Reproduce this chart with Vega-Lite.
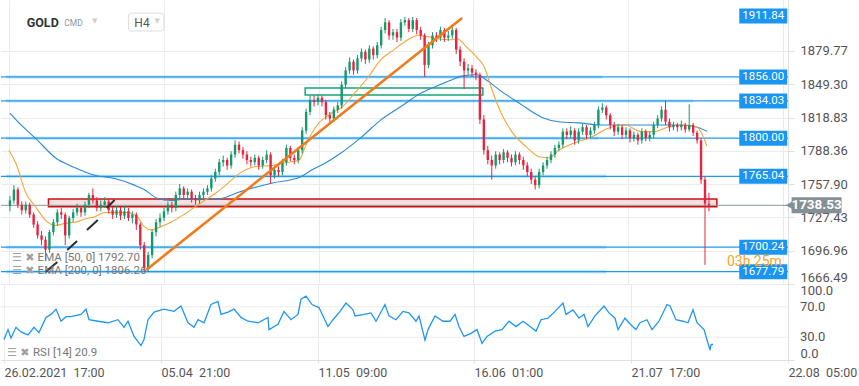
{
"$schema":"https://vega.github.io/schema/vega-lite/v6.json",
"padding":0,"spacing":0,"bounds":"flush",
"background":"white",
"config":{"font":"Roboto","view":{"stroke":null},"axis":{"labelFont":"Roboto","labelColor":"#555","gridColor":"#ebebeb","domainColor":"#e0e0e0","tickColor":"#e0e0e0"}},
"datasets":{
"candles":[
{"t":1,"o":1738,"h":1747,"l":1733,"c":1743},{"t":2,"o":1743,"h":1757,"l":1740,"c":1753},{"t":3,"o":1753,"h":1755,"l":1736,"c":1739},{"t":4,"o":1739,"h":1742,"l":1730,"c":1734},{"t":5,"o":1734,"h":1742,"l":1731,"c":1739},{"t":6,"o":1739,"h":1741,"l":1727,"c":1730},{"t":7,"o":1730,"h":1732,"l":1718,"c":1721},{"t":8,"o":1721,"h":1724,"l":1708,"c":1711},{"t":9,"o":1711,"h":1715,"l":1702,"c":1707},{"t":10,"o":1707,"h":1710,"l":1688,"c":1698},
{"t":11,"o":1698,"h":1716,"l":1695,"c":1714},{"t":12,"o":1714,"h":1726,"l":1711,"c":1723},{"t":13,"o":1723,"h":1735,"l":1720,"c":1732},{"t":14,"o":1732,"h":1736,"l":1726,"c":1730},{"t":15,"o":1730,"h":1732,"l":1702,"c":1711},{"t":16,"o":1711,"h":1729,"l":1708,"c":1727},{"t":17,"o":1727,"h":1735,"l":1723,"c":1732},{"t":18,"o":1732,"h":1740,"l":1729,"c":1736},{"t":19,"o":1736,"h":1738,"l":1728,"c":1732},{"t":20,"o":1732,"h":1742,"l":1729,"c":1739},
{"t":21,"o":1739,"h":1750,"l":1736,"c":1748},{"t":22,"o":1748,"h":1754,"l":1740,"c":1743},{"t":23,"o":1743,"h":1746,"l":1733,"c":1736},{"t":24,"o":1736,"h":1743,"l":1733,"c":1739},{"t":25,"o":1739,"h":1746,"l":1736,"c":1742},{"t":26,"o":1742,"h":1744,"l":1731,"c":1734},{"t":27,"o":1734,"h":1737,"l":1726,"c":1730},{"t":28,"o":1730,"h":1738,"l":1727,"c":1734},{"t":29,"o":1734,"h":1737,"l":1725,"c":1729},{"t":30,"o":1729,"h":1738,"l":1726,"c":1733},
{"t":31,"o":1733,"h":1736,"l":1724,"c":1727},{"t":32,"o":1727,"h":1733,"l":1722,"c":1730},{"t":33,"o":1730,"h":1732,"l":1716,"c":1721},{"t":34,"o":1721,"h":1723,"l":1698,"c":1702},{"t":35,"o":1702,"h":1705,"l":1677.5,"c":1681},{"t":36,"o":1681,"h":1696,"l":1678,"c":1693},{"t":37,"o":1693,"h":1716,"l":1690,"c":1714},{"t":38,"o":1714,"h":1726,"l":1710,"c":1723},{"t":39,"o":1723,"h":1731,"l":1719,"c":1727},{"t":40,"o":1727,"h":1736,"l":1724,"c":1733},
{"t":41,"o":1733,"h":1742,"l":1730,"c":1739},{"t":42,"o":1739,"h":1742,"l":1732,"c":1736},{"t":43,"o":1736,"h":1751,"l":1733,"c":1748},{"t":44,"o":1748,"h":1758,"l":1745,"c":1754},{"t":45,"o":1754,"h":1756,"l":1744,"c":1748},{"t":46,"o":1748,"h":1754,"l":1745,"c":1751},{"t":47,"o":1751,"h":1753,"l":1741,"c":1745},{"t":48,"o":1745,"h":1748,"l":1739,"c":1743},{"t":49,"o":1743,"h":1751,"l":1740,"c":1748},{"t":50,"o":1748,"h":1754,"l":1745,"c":1751},
{"t":51,"o":1751,"h":1757,"l":1748,"c":1754},{"t":52,"o":1754,"h":1766,"l":1751,"c":1763},{"t":53,"o":1763,"h":1772,"l":1760,"c":1769},{"t":54,"o":1769,"h":1781,"l":1766,"c":1778},{"t":55,"o":1778,"h":1784,"l":1774,"c":1780},{"t":56,"o":1780,"h":1782,"l":1771,"c":1775},{"t":57,"o":1775,"h":1788,"l":1772,"c":1785},{"t":58,"o":1785,"h":1798,"l":1782,"c":1794},{"t":59,"o":1794,"h":1797,"l":1786,"c":1789},{"t":60,"o":1789,"h":1792,"l":1781,"c":1785},
{"t":61,"o":1785,"h":1788,"l":1776,"c":1780},{"t":62,"o":1780,"h":1783,"l":1774,"c":1778},{"t":63,"o":1778,"h":1785,"l":1775,"c":1782},{"t":64,"o":1782,"h":1784,"l":1771,"c":1775},{"t":65,"o":1775,"h":1783,"l":1772,"c":1780},{"t":66,"o":1780,"h":1789,"l":1777,"c":1785},{"t":67,"o":1785,"h":1787,"l":1758,"c":1766},{"t":68,"o":1766,"h":1774,"l":1763,"c":1771},{"t":69,"o":1771,"h":1774,"l":1765,"c":1769},{"t":70,"o":1769,"h":1781,"l":1766,"c":1778},
{"t":71,"o":1778,"h":1794,"l":1775,"c":1791},{"t":72,"o":1791,"h":1793,"l":1779,"c":1782},{"t":73,"o":1782,"h":1785,"l":1776,"c":1780},{"t":74,"o":1780,"h":1792,"l":1777,"c":1789},{"t":75,"o":1789,"h":1810,"l":1786,"c":1807},{"t":76,"o":1807,"h":1827,"l":1804,"c":1824},{"t":77,"o":1824,"h":1839,"l":1821,"c":1835},{"t":78,"o":1835,"h":1839,"l":1829,"c":1833},{"t":79,"o":1833,"h":1840,"l":1830,"c":1837},{"t":80,"o":1837,"h":1839,"l":1829,"c":1833},
{"t":81,"o":1833,"h":1835,"l":1817,"c":1821},{"t":82,"o":1821,"h":1824,"l":1813,"c":1818},{"t":83,"o":1818,"h":1829,"l":1815,"c":1826},{"t":84,"o":1826,"h":1833,"l":1823,"c":1830},{"t":85,"o":1830,"h":1852,"l":1827,"c":1849},{"t":86,"o":1849,"h":1865,"l":1846,"c":1862},{"t":87,"o":1862,"h":1874,"l":1859,"c":1870},{"t":88,"o":1870,"h":1872,"l":1858,"c":1862},{"t":89,"o":1862,"h":1876,"l":1859,"c":1873},{"t":90,"o":1873,"h":1882,"l":1870,"c":1879},
{"t":91,"o":1879,"h":1881,"l":1868,"c":1872},{"t":92,"o":1872,"h":1885,"l":1869,"c":1882},{"t":93,"o":1882,"h":1884,"l":1872,"c":1876},{"t":94,"o":1876,"h":1888,"l":1873,"c":1885},{"t":95,"o":1885,"h":1902,"l":1882,"c":1899},{"t":96,"o":1899,"h":1910,"l":1896,"c":1906},{"t":97,"o":1906,"h":1908,"l":1890,"c":1894},{"t":98,"o":1894,"h":1900,"l":1890,"c":1897},{"t":99,"o":1897,"h":1900,"l":1888,"c":1892},{"t":100,"o":1892,"h":1909,"l":1889,"c":1906},
{"t":101,"o":1906,"h":1911,"l":1903,"c":1908},{"t":102,"o":1908,"h":1910,"l":1897,"c":1900},{"t":103,"o":1900,"h":1911,"l":1897,"c":1908},{"t":104,"o":1908,"h":1910,"l":1895,"c":1899},{"t":105,"o":1899,"h":1902,"l":1890,"c":1894},{"t":106,"o":1894,"h":1896,"l":1856,"c":1867},{"t":107,"o":1867,"h":1888,"l":1864,"c":1885},{"t":108,"o":1885,"h":1897,"l":1882,"c":1894},{"t":109,"o":1894,"h":1897,"l":1888,"c":1892},{"t":110,"o":1892,"h":1902,"l":1889,"c":1899},
{"t":111,"o":1899,"h":1901,"l":1888,"c":1892},{"t":112,"o":1892,"h":1898,"l":1889,"c":1894},{"t":113,"o":1894,"h":1903,"l":1891,"c":1899},{"t":114,"o":1899,"h":1901,"l":1877,"c":1881},{"t":115,"o":1881,"h":1884,"l":1866,"c":1870},{"t":116,"o":1870,"h":1873,"l":1845,"c":1862},{"t":117,"o":1862,"h":1868,"l":1858,"c":1864},{"t":118,"o":1864,"h":1867,"l":1856,"c":1860},{"t":119,"o":1860,"h":1863,"l":1853,"c":1858},{"t":120,"o":1858,"h":1860,"l":1813,"c":1817},
{"t":121,"o":1817,"h":1821,"l":1785,"c":1789},{"t":122,"o":1789,"h":1793,"l":1776,"c":1780},{"t":123,"o":1780,"h":1784,"l":1762,"c":1775},{"t":124,"o":1775,"h":1788,"l":1772,"c":1785},{"t":125,"o":1785,"h":1787,"l":1776,"c":1780},{"t":126,"o":1780,"h":1790,"l":1777,"c":1787},{"t":127,"o":1787,"h":1789,"l":1778,"c":1782},{"t":128,"o":1782,"h":1785,"l":1774,"c":1778},{"t":129,"o":1778,"h":1788,"l":1775,"c":1785},{"t":130,"o":1785,"h":1787,"l":1776,"c":1780},
{"t":131,"o":1780,"h":1783,"l":1771,"c":1775},{"t":132,"o":1775,"h":1778,"l":1765,"c":1769},{"t":133,"o":1769,"h":1772,"l":1758,"c":1762},{"t":134,"o":1762,"h":1765,"l":1753,"c":1757},{"t":135,"o":1757,"h":1772,"l":1754,"c":1769},{"t":136,"o":1769,"h":1778,"l":1766,"c":1775},{"t":137,"o":1775,"h":1783,"l":1772,"c":1780},{"t":138,"o":1780,"h":1788,"l":1777,"c":1785},{"t":139,"o":1785,"h":1794,"l":1782,"c":1791},{"t":140,"o":1791,"h":1797,"l":1788,"c":1794},
{"t":141,"o":1794,"h":1809,"l":1791,"c":1806},{"t":142,"o":1806,"h":1809,"l":1799,"c":1803},{"t":143,"o":1803,"h":1811,"l":1800,"c":1807},{"t":144,"o":1807,"h":1809,"l":1794,"c":1798},{"t":145,"o":1798,"h":1809,"l":1795,"c":1806},{"t":146,"o":1806,"h":1813,"l":1803,"c":1810},{"t":147,"o":1810,"h":1812,"l":1799,"c":1803},{"t":148,"o":1803,"h":1810,"l":1800,"c":1807},{"t":149,"o":1807,"h":1815,"l":1804,"c":1812},{"t":150,"o":1812,"h":1829,"l":1809,"c":1826},
{"t":151,"o":1826,"h":1832,"l":1823,"c":1828},{"t":152,"o":1828,"h":1830,"l":1817,"c":1821},{"t":153,"o":1821,"h":1823,"l":1808,"c":1812},{"t":154,"o":1812,"h":1815,"l":1802,"c":1806},{"t":155,"o":1806,"h":1813,"l":1803,"c":1810},{"t":156,"o":1810,"h":1812,"l":1799,"c":1803},{"t":157,"o":1803,"h":1810,"l":1800,"c":1807},{"t":158,"o":1807,"h":1809,"l":1796,"c":1800},{"t":159,"o":1800,"h":1806,"l":1797,"c":1803},{"t":160,"o":1803,"h":1805,"l":1794,"c":1798},
{"t":161,"o":1798,"h":1809,"l":1795,"c":1806},{"t":162,"o":1806,"h":1808,"l":1797,"c":1800},{"t":163,"o":1800,"h":1806,"l":1797,"c":1803},{"t":164,"o":1803,"h":1815,"l":1800,"c":1812},{"t":165,"o":1812,"h":1821,"l":1809,"c":1818},{"t":166,"o":1818,"h":1829,"l":1815,"c":1826},{"t":167,"o":1826,"h":1834,"l":1812,"c":1815},{"t":168,"o":1815,"h":1818,"l":1806,"c":1810},{"t":169,"o":1810,"h":1815,"l":1807,"c":1812},{"t":170,"o":1812,"h":1814,"l":1806,"c":1810},
{"t":171,"o":1810,"h":1816,"l":1807,"c":1812},{"t":172,"o":1812,"h":1814,"l":1805,"c":1808},{"t":173,"o":1808,"h":1831,"l":1806,"c":1812},{"t":174,"o":1812,"h":1814,"l":1802,"c":1805},{"t":175,"o":1805,"h":1807,"l":1795,"c":1798},{"t":176,"o":1798,"h":1800,"l":1758,"c":1762},{"t":177,"o":1762,"h":1765,"l":1684,"c":1740},{"t":178,"o":1740,"h":1750,"l":1733,"c":1738.53}
],
"ema50":[{"t":0.75,"v":1789},{"t":2.5,"v":1777},{"t":5,"v":1750},{"t":7.5,"v":1737},{"t":10,"v":1725},{"t":12.5,"v":1720},{"t":15,"v":1722},{"t":17.5,"v":1723},{"t":20,"v":1726},{"t":22.5,"v":1728},{"t":25,"v":1732},{"t":27.5,"v":1732},{"t":30.75,"v":1732},{"t":33.25,"v":1728},{"t":35,"v":1719},{"t":36.75,"v":1716},{"t":39.25,"v":1719},{"t":41.75,"v":1723},{"t":45,"v":1730},{"t":49,"v":1740},{"t":53.25,"v":1750},{"t":55,"v":1755},{"t":59.25,"v":1768},{"t":63.25,"v":1774},{"t":67.5,"v":1775},{"t":70,"v":1777},{"t":74.25,"v":1780},{"t":75.75,"v":1792},{"t":77.5,"v":1805},{"t":79.25,"v":1814},{"t":82.5,"v":1823},{"t":85,"v":1828},{"t":88.25,"v":1841},{"t":91.75,"v":1856},{"t":95,"v":1872},{"t":98.25,"v":1881},{"t":101.75,"v":1890},{"t":104.25,"v":1894},{"t":106.75,"v":1893},{"t":109.25,"v":1891},{"t":112.5,"v":1890},{"t":114.25,"v":1891},{"t":116.75,"v":1883},{"t":119.25,"v":1874},{"t":121,"v":1866},{"t":123,"v":1845},{"t":125,"v":1826},{"t":128.25,"v":1805},{"t":131.75,"v":1792},{"t":135,"v":1783},{"t":137.5,"v":1782},{"t":140,"v":1789},{"t":144.25,"v":1796},{"t":148.25,"v":1801},{"t":152.5,"v":1809},{"t":156.75,"v":1812},{"t":160.75,"v":1806},{"t":164.25,"v":1806},{"t":167.5,"v":1810},{"t":171.75,"v":1812},{"t":175,"v":1810},{"t":177.5,"v":1792.7}],
"ema200":[{"t":1,"v":1823},{"t":2.5,"v":1817},{"t":8,"v":1798},{"t":12.5,"v":1782},{"t":17.5,"v":1773},{"t":22.5,"v":1766},{"t":27.5,"v":1763},{"t":32.5,"v":1757},{"t":35,"v":1753},{"t":38.25,"v":1745},{"t":41.75,"v":1743},{"t":45,"v":1744},{"t":53.25,"v":1744},{"t":59.25,"v":1751},{"t":67.5,"v":1759},{"t":74.25,"v":1764},{"t":77.5,"v":1771},{"t":80.75,"v":1777},{"t":84.25,"v":1785},{"t":90,"v":1801},{"t":95,"v":1817},{"t":100,"v":1829},{"t":105,"v":1841},{"t":110,"v":1849},{"t":113.25,"v":1854},{"t":115.75,"v":1857},{"t":119.25,"v":1858},{"t":121.75,"v":1853},{"t":125,"v":1844},{"t":130,"v":1832},{"t":135.75,"v":1819},{"t":140,"v":1815},{"t":145,"v":1814},{"t":150.75,"v":1812},{"t":157.5,"v":1812},{"t":164.25,"v":1812},{"t":170.75,"v":1812},{"t":175,"v":1810},{"t":177.5,"v":1806.26}],
"rsi":[{"t":0.75,"v":27},{"t":1.75,"v":40},{"t":2.5,"v":29},{"t":3.75,"v":43},{"t":5,"v":37},{"t":6.75,"v":33},{"t":8.25,"v":43},{"t":9.5,"v":36},{"t":11.25,"v":56},{"t":12.5,"v":60},{"t":13.75,"v":67},{"t":15,"v":51},{"t":16.25,"v":57},{"t":17.5,"v":57},{"t":20,"v":60},{"t":21.25,"v":67},{"t":22,"v":53},{"t":24.25,"v":51},{"t":26.75,"v":49},{"t":29.25,"v":53},{"t":30.75,"v":43},{"t":31.75,"v":51},{"t":33.25,"v":31},{"t":35,"v":19},{"t":35.75,"v":27},{"t":36.75,"v":53},{"t":38.25,"v":63},{"t":40.75,"v":67},{"t":43.25,"v":64},{"t":45,"v":71},{"t":46.75,"v":49},{"t":48.25,"v":43},{"t":49.25,"v":53},{"t":50.75,"v":49},{"t":52.5,"v":73},{"t":54.25,"v":77},{"t":55,"v":60},{"t":56.75,"v":63},{"t":58.25,"v":67},{"t":60,"v":56},{"t":61.75,"v":51},{"t":64.25,"v":49},{"t":66.75,"v":56},{"t":67,"v":40},{"t":69.25,"v":47},{"t":70.75,"v":64},{"t":72.5,"v":53},{"t":74.25,"v":60},{"t":75,"v":80},{"t":76.25,"v":84},{"t":77.75,"v":73},{"t":79.5,"v":69},{"t":80.5,"v":58},{"t":81.75,"v":44},{"t":83,"v":53},{"t":84.75,"v":64},{"t":86.25,"v":75},{"t":88,"v":66},{"t":88.5,"v":58},{"t":90.75,"v":60},{"t":92.5,"v":62},{"t":93.75,"v":51},{"t":96,"v":73},{"t":97,"v":58},{"t":98.75,"v":53},{"t":100.5,"v":64},{"t":102,"v":62},{"t":103.75,"v":51},{"t":104.5,"v":58},{"t":106,"v":26},{"t":106.75,"v":40},{"t":108.5,"v":58},{"t":110.5,"v":51},{"t":112.25,"v":51},{"t":113.5,"v":60},{"t":114.5,"v":44},{"t":115.75,"v":31},{"t":117.5,"v":35},{"t":119,"v":40},{"t":120.25,"v":22},{"t":121.5,"v":31},{"t":123.5,"v":38},{"t":125.25,"v":40},{"t":127,"v":51},{"t":128.75,"v":44},{"t":130.5,"v":51},{"t":132.25,"v":44},{"t":133.75,"v":38},{"t":135,"v":53},{"t":136.75,"v":55},{"t":138.5,"v":64},{"t":140.5,"v":75},{"t":141.25,"v":60},{"t":143,"v":66},{"t":144.5,"v":55},{"t":145.75,"v":60},{"t":146.75,"v":44},{"t":148.5,"v":58},{"t":150.75,"v":71},{"t":152,"v":62},{"t":153.5,"v":55},{"t":154.25,"v":40},{"t":156,"v":55},{"t":157.5,"v":46},{"t":158.75,"v":40},{"t":159.75,"v":49},{"t":161.5,"v":53},{"t":162.75,"v":40},{"t":164.5,"v":51},{"t":166.5,"v":73},{"t":167.25,"v":71},{"t":168.75,"v":53},{"t":170.5,"v":51},{"t":171.75,"v":49},{"t":173,"v":66},{"t":174,"v":49},{"t":175.75,"v":40},{"t":176.75,"v":22},{"t":177.25,"v":13},{"t":177.5,"v":20},{"t":178,"v":21}],
"levels":[{"v":1856},{"v":1834.03},{"v":1800},{"v":1765.04},{"v":1700.24},{"v":1677.79}],
"halo":[{"v":1856,"t1":0,"t2":151},{"v":1834.03,"t1":0,"t2":174},{"v":1800,"t1":0,"t2":150},{"v":1765.04,"t1":0,"t2":152},{"v":1700.24,"t1":0,"t2":152},{"v":1677.79,"t1":0,"t2":152}],
"tags":[{"v":1911.84},{"v":1856},{"v":1834.03},{"v":1800},{"v":1765.04},{"v":1700.24},{"v":1677.79}],
"trend":[{"t":35.5,"v":1679.4},{"t":115.5,"v":1909.96}],
"strokes":[{"s":1,"t":10,"v":1677.5},{"s":1,"t":13,"v":1686.6},{"s":2,"t":15.5,"v":1697.6},{"s":2,"t":18,"v":1705.9},{"s":3,"t":20.5,"v":1715.9},{"s":3,"t":23.25,"v":1725.1},{"s":4,"t":25.5,"v":1736.1},{"s":4,"t":27.5,"v":1743.4}],
"zones":[{"t1":10.75,"t2":180,"p1":1737.1,"p2":1744.3,"z":"red"}],
"gzones":[{"t1":75.75,"t2":120.75,"p1":1839.5,"p2":1845.9,"z":"green"}],
"rsilegend":[{"lab":"RSI [14] 20.9","icon":"☰ ✖","t":8,"ti":1.5,"v":9}],
"rsilevels":[{"v":30},{"v":70}]
},
"vconcat":[
{"width":787,"height":284,
"layer":[
{"data":{"name":"halo"},"mark":{"type":"rule","color":"#1d9bf0","strokeWidth":3,"opacity":0.3},
 "encoding":{"y":{"field":"v","type":"quantitative","title":null,"scale":{"domain":[1666.49,1926.45],"nice":false,"zero":false},
  "axis":{"orient":"right","values":[1666.49,1696.96,1727.43,1757.90,1788.36,1818.83,1849.30,1879.77],"format":".2f","labelFlush":true,"labelOverlap":false,"grid":true,"tickSize":6,"labelPadding":6,"labelFontSize":13,"labelColor":"#555"}},
  "x":{"field":"t1","type":"quantitative","title":null},"x2":{"field":"t2"}}},
{"data":{"name":"levels"},"mark":{"type":"rule","color":"#1d9bf0","strokeWidth":1.2},
 "encoding":{"y":{"field":"v","type":"quantitative","title":null}}},
{"data":{"name":"zones"},"mark":{"type":"rect","fill":"#f6d3d3","fillOpacity":0.7,"stroke":"#cc1111","strokeWidth":1.5},
 "encoding":{"x":{"field":"t1","type":"quantitative","title":null},"x2":{"field":"t2"},"y":{"field":"p1","type":"quantitative","title":null},"y2":{"field":"p2"}}},
{"data":{"name":"gzones"},"mark":{"type":"rect","fill":"#ffffff","fillOpacity":0,"stroke":"#12a874","strokeWidth":1.5},
 "encoding":{"x":{"field":"t1","type":"quantitative","title":null},"x2":{"field":"t2"},"y":{"field":"p1","type":"quantitative","title":null},"y2":{"field":"p2"}}},
{"data":{"values":[{"v":1738.53}]},"mark":{"type":"rule","color":"#8b959c","strokeWidth":1},
 "encoding":{"y":{"field":"v","type":"quantitative","title":null}}},
{"data":{"name":"ema200"},"mark":{"type":"line","color":"#2a8ad4","strokeWidth":1.1,"interpolate":"monotone"},
 "encoding":{"x":{"field":"t","type":"quantitative","title":null},"y":{"field":"v","type":"quantitative","title":null}}},
{"data":{"name":"ema50"},"mark":{"type":"line","color":"#f7a33a","strokeWidth":1.1,"interpolate":"monotone"},
 "encoding":{"x":{"field":"t","type":"quantitative","title":null},"y":{"field":"v","type":"quantitative","title":null}}},
{"data":{"name":"candles"},"mark":{"type":"rule","strokeWidth":1},
 "encoding":{"x":{"field":"t","type":"quantitative","title":null,"scale":{"domain":[0,196.75],"nice":false,"zero":false},
   "axis":{"values":[0.75,40,79.25,118.25,157.5,196.75],"labels":false,"ticks":false,"domain":true,"grid":true}},
  "y":{"field":"l","type":"quantitative","title":null},"y2":{"field":"h"},
  "color":{"condition":{"test":"datum.c >= datum.o","value":"#15996a"},"value":"#e6243e"}}},
{"data":{"name":"candles"},"mark":{"type":"bar","size":2.4},
 "encoding":{"x":{"field":"t","type":"quantitative","title":null},
  "y":{"field":"o","type":"quantitative","title":null},"y2":{"field":"c"},
  "color":{"condition":{"test":"datum.c >= datum.o","value":"#15996a"},"value":"#e6243e"}}},
{"data":{"name":"trend"},"mark":{"type":"line","color":"#f27a1a","strokeWidth":2.6},
 "encoding":{"x":{"field":"t","type":"quantitative","title":null},"y":{"field":"v","type":"quantitative","title":null}}},
{"data":{"name":"strokes"},"mark":{"type":"line","color":"#2d2d2d","strokeWidth":2},
 "encoding":{"x":{"field":"t","type":"quantitative","title":null},"y":{"field":"v","type":"quantitative","title":null},"detail":{"field":"s"}}},
{"data":{"name":"tags"},"mark":{"type":"tick","orient":"horizontal","size":48,"thickness":15,"color":"#1b95f2","opacity":1},
 "encoding":{"x":{"datum":191.75},"y":{"field":"v","type":"quantitative","title":null}}},
{"data":{"name":"tags"},"mark":{"type":"text","color":"#ffffff","fontSize":11.5,"font":"Roboto"},
 "encoding":{"x":{"datum":191.75},"y":{"field":"v","type":"quantitative","title":null},"text":{"field":"v","type":"quantitative","format":".2f"}}},
{"data":{"values":[{"v":1738.53}]},"mark":{"type":"tick","orient":"horizontal","size":50,"thickness":16,"color":"#848f96","opacity":1},
 "encoding":{"x":{"datum":205.25},"y":{"field":"v","type":"quantitative","title":null}}},
{"data":{"values":[{"v":1738.53}]},"mark":{"type":"point","shape":"triangle-left","size":110,"filled":true,"color":"#848f96","opacity":1},
 "encoding":{"x":{"datum":198.6},"y":{"field":"v","type":"quantitative","title":null}}},
{"data":{"values":[{"v":1738.53}]},"mark":{"type":"text","color":"#ffffff","fontSize":13.5,"fontWeight":"bold","font":"Roboto"},
 "encoding":{"x":{"datum":205.25},"y":{"field":"v","type":"quantitative","title":null},"text":{"field":"v","type":"quantitative","format":".2f"}}},
{"data":{"values":[{"lab":"03h 25m"}]},"mark":{"type":"text","color":"#f5a623","fontSize":14,"font":"Roboto"},
 "encoding":{"x":{"datum":189.5},"y":{"datum":1686.5},"text":{"field":"lab"}}},
{"data":{"values":[{"lab":"EMA [50, 0] 1792.70","p":1690.3},{"lab":"EMA [200, 0] 1806.26","p":1678.4}]},"mark":{"type":"text","align":"left","color":"#777777","fontSize":11.5,"font":"Roboto"},
 "encoding":{"x":{"datum":8},"y":{"field":"p","type":"quantitative","title":null},"text":{"field":"lab"}}},
{"data":{"values":[{"lab":"☰ ✖","p":1690.3},{"lab":"☰ ✖","p":1678.4}]},"mark":{"type":"text","align":"left","color":"#a0a0a0","fontSize":11,"font":"DejaVu Sans"},
 "encoding":{"x":{"datum":1.5},"y":{"field":"p","type":"quantitative","title":null},"text":{"field":"lab"}}},
{"data":{"values":[{"lab":"H4"}]},"mark":{"type":"rect","fill":"#ffffff","stroke":"#dddddd","strokeWidth":1,"cornerRadius":3},
 "encoding":{"x":{"datum":31},"x2":{"datum":40},"y":{"datum":1914.5},"y2":{"datum":1898.1}}},
{"data":{"values":[{"lab":"GOLD"}]},"mark":{"type":"text","align":"left","color":"#333333","fontSize":12.5,"fontWeight":"bold","font":"Roboto"},
 "encoding":{"x":{"datum":5.25},"y":{"datum":1905.4},"text":{"field":"lab"}}},
{"data":{"values":[{"lab":"CMD"}]},"mark":{"type":"text","align":"left","color":"#8a9aa8","fontSize":8.5,"font":"Roboto"},
 "encoding":{"x":{"datum":14.75},"y":{"datum":1905.4},"text":{"field":"lab"}}},
{"data":{"values":[{"lab":"H4"}]},"mark":{"type":"text","align":"left","color":"#555555","fontSize":12,"font":"Roboto"},
 "encoding":{"x":{"datum":32.5},"y":{"datum":1905.8},"text":{"field":"lab"}}},
{"data":{"values":[{"lab":"▼","x":21.75},{"lab":"▼","x":37.6}]},"mark":{"type":"text","align":"left","color":"#cfcfcf","fontSize":7,"font":"DejaVu Sans"},
 "encoding":{"x":{"field":"x","type":"quantitative","title":null},"y":{"datum":1906.8},"text":{"field":"lab"}}}
]},
{"width":787,"height":76,
"layer":[
{"data":{"name":"rsilevels"},"mark":{"type":"rule","color":"#ebebeb","strokeWidth":1},
 "encoding":{"y":{"field":"v","type":"quantitative","title":null,"scale":{"domain":[0,100],"nice":false,"zero":false},
   "axis":{"orient":"right","values":[0,30,70,100],"format":".1f","labelOverlap":false,"labelBaseline":{"condition":[{"test":"datum.value >= 100","value":"top"},{"test":"datum.value <= 0","value":"bottom"}],"value":"middle"},"grid":true,"tickSize":6,"labelPadding":6,"labelFontSize":13,"labelColor":"#555"}}}},
{"data":{"name":"rsilevels"},"mark":{"type":"text","align":"left","baseline":"middle","color":"#555555","fontSize":13,"font":"Roboto"},
 "encoding":{"x":{"datum":199.75},"y":{"field":"v","type":"quantitative","title":null},"text":{"field":"v","type":"quantitative","format":".1f"}}},
{"data":{"name":"rsi"},"mark":{"type":"line","color":"#2196f3","strokeWidth":1.3},
 "encoding":{"x":{"field":"t","type":"quantitative","title":null,"scale":{"domain":[0,196.75],"nice":false,"zero":false},
   "axis":{"values":[0.75,40,79.25,118.25,157.5,196.75],"labelExpr":"datum.value < 1 ? '26.02.2021\u00a0\u00a017:00' : datum.value < 41 ? '05.04\u00a0\u00a021:00' : datum.value < 80 ? '11.05\u00a0\u00a009:00' : datum.value < 119 ? '16.06\u00a0\u00a001:00' : datum.value < 158 ? '21.07\u00a0\u00a017:00' : '22.08\u00a0\u00a005:00'","labelAlign":"left","labelFlush":false,"labelBound":false,"labelOverlap":false,"labelFontSize":12.5,"labelColor":"#555","tickSize":3,"labelPadding":3,"grid":true}},
  "y":{"field":"v","type":"quantitative","title":null}}},
{"data":{"name":"rsilegend"},"mark":{"type":"text","align":"left","color":"#777777","fontSize":11.5,"font":"Roboto"},
 "encoding":{"x":{"field":"t","type":"quantitative","title":null},"y":{"field":"v","type":"quantitative","title":null},"text":{"field":"lab"}}},
{"data":{"name":"rsilegend"},"mark":{"type":"text","align":"left","color":"#a0a0a0","fontSize":11,"font":"DejaVu Sans"},
 "encoding":{"x":{"field":"ti","type":"quantitative","title":null},"y":{"field":"v","type":"quantitative","title":null},"text":{"field":"icon"}}}
]}
]
}
